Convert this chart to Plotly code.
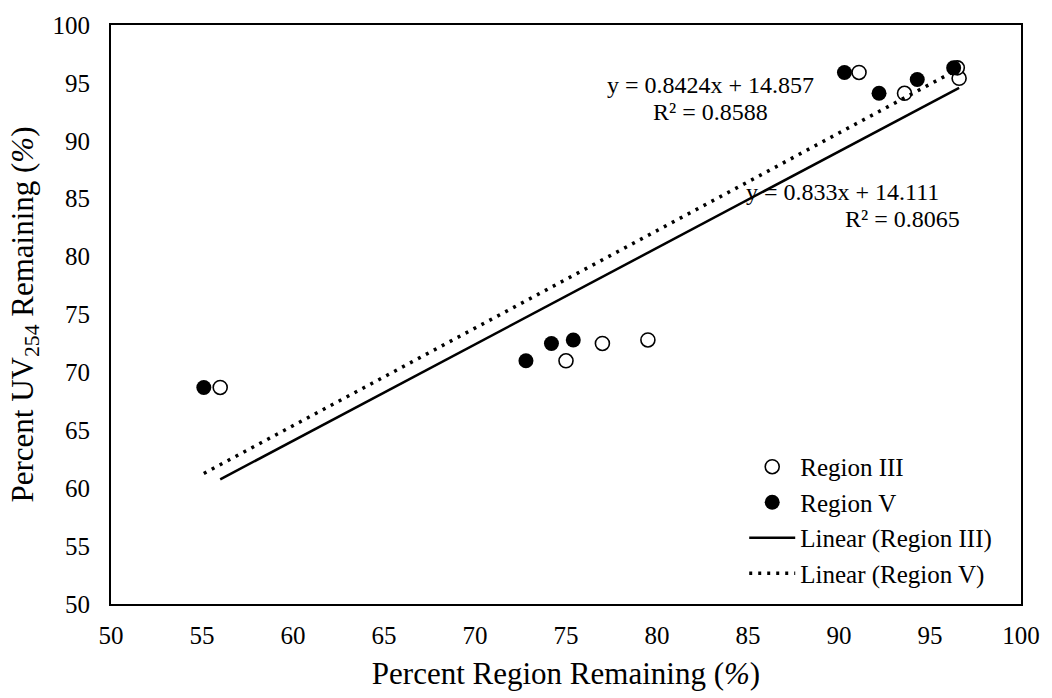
import plotly.graph_objects as go

# Data
region3_x = [56.0, 75.0, 77.0, 79.5, 91.1, 93.6, 96.6, 96.5]
region3_y = [68.7, 71.0, 72.5, 72.8, 95.9, 94.1, 95.4, 96.3]
region5_x = [55.1, 72.8, 74.2, 75.4, 90.3, 92.2, 94.3, 96.3]
region5_y = [68.7, 71.0, 72.5, 72.8, 95.9, 94.1, 95.3, 96.3]
fit3 = [0.833, 14.111]   # slope, intercept
fit5 = [0.8424, 14.857]
fit3_r2 = 0.8065
fit5_r2 = 0.8588
x_ticks = [50, 55, 60, 65, 70, 75, 80, 85, 90, 95, 100]
y_ticks = [50, 55, 60, 65, 70, 75, 80, 85, 90, 95, 100]

FONT = "Liberation Serif"

L, R, T, B = 111, 1025, 18, 604
W, H = R - L, B - T


def px(xp):
    return (xp - L) / W


def py(yp):
    return (B - yp) / H


def fit_line(xs, fit):
    x0, x1 = min(xs), max(xs)
    return [x0, x1], [fit[0] * x0 + fit[1], fit[0] * x1 + fit[1]]


fig = go.Figure()
fig.add_trace(go.Scatter(x=region3_x, y=region3_y, mode="markers", name="Region III",
                         marker=dict(size=14, color="white", line=dict(color="black", width=1.6))))
fig.add_trace(go.Scatter(x=region5_x, y=region5_y, mode="markers", name="Region V",
                         marker=dict(size=15, color="black", line=dict(color="black", width=0))))
lx, ly = fit_line(region3_x, fit3)
fig.add_trace(go.Scatter(x=lx, y=ly, mode="lines", name="Linear (Region III)",
                         line=dict(color="black", width=2.5)))
lx, ly = fit_line(region5_x, fit5)
fig.add_trace(go.Scatter(x=lx, y=ly, mode="lines", name="Linear (Region V)",
                         line=dict(color="black", width=3.5, dash="3px,6px")))

fig.update_layout(
    width=1052, height=698,
    margin=dict(l=L, r=1052 - R, t=T, b=698 - B),
    paper_bgcolor="white", plot_bgcolor="white",
    font=dict(family=FONT, size=24, color="black"),
    showlegend=True,
    legend=dict(x=px(747), y=py(442), xanchor="left", yanchor="top", itemwidth=46,
                bgcolor="rgba(0,0,0,0)", font=dict(size=25, family=FONT)),
    xaxis=dict(range=[50, 100], tickvals=x_ticks, showgrid=False, zeroline=False,
               showline=True, linecolor="black", linewidth=2, mirror=True, ticks="",
               ticklabelstandoff=8,
               tickfont=dict(size=25, family=FONT),
               title=dict(text="Percent Region Remaining (<i>%</i>)",
                          font=dict(size=31, family=FONT), standoff=14)),
    yaxis=dict(range=[50, 100], tickvals=y_ticks, showgrid=False, zeroline=False,
               showline=True, linecolor="black", linewidth=2, mirror=True, ticks="",
               ticklabelstandoff=14,
               tickfont=dict(size=25, family=FONT),
               title=dict(text="Percent UV<sub>254</sub> Remaining (<i>%</i>)",
                          font=dict(size=31, family=FONT), standoff=10)),
)

# Trendline equation labels (one annotation per line)
lines5 = [f"y = {fit5[0]}x + {fit5[1]}", f"R² = {fit5_r2}"]
for txt, yp in zip(lines5, [79, 106]):
    fig.add_annotation(xref="paper", yref="paper", x=px(713), y=py(yp), text=txt,
                       showarrow=False, font=dict(size=24, family=FONT),
                       xanchor="center", yanchor="middle")
fig.add_annotation(xref="paper", yref="paper", x=px(846), y=py(187),
                   text=f"y = {fit3[0]}x + {fit3[1]}", showarrow=False,
                   font=dict(size=24, family=FONT), xanchor="center", yanchor="middle")
fig.add_annotation(xref="paper", yref="paper", x=px(906), y=py(214),
                   text=f"R² = {fit3_r2}", showarrow=False,
                   font=dict(size=24, family=FONT), xanchor="center", yanchor="middle")

fig.write_html("out.html")
